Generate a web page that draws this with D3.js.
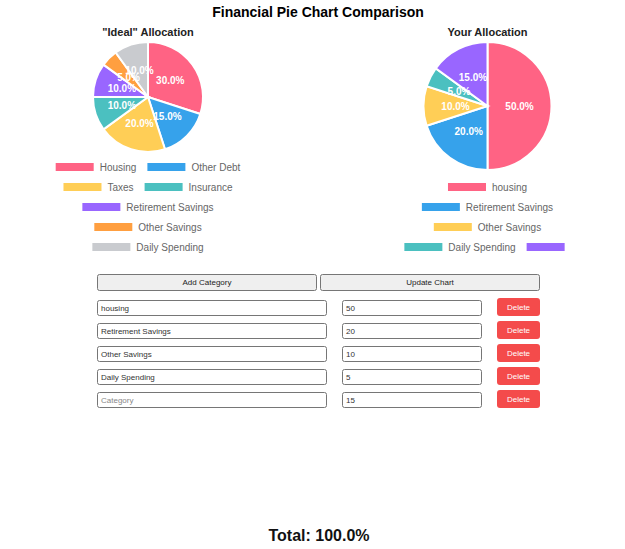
<!DOCTYPE html>
<html>
<head>
<meta charset="utf-8">
<script src="https://cdn.jsdelivr.net/npm/d3@7"></script>
<style>
  html, body { margin: 0; padding: 0; background: #fff; }
  svg { display: block; font-family: "Liberation Sans", Arial, Helvetica, sans-serif; }
</style>
</head>
<body>
<svg id="chart" width="625" height="549"></svg>
<script>
// ---- data ----
const idealCategories = ["Housing", "Other Debt", "Taxes", "Insurance", "Retirement Savings", "Other Savings", "Daily Spending"];
const idealValues = [30, 15, 20, 10, 10, 5, 10];
const yourCategories = ["housing", "Retirement Savings", "Other Savings", "Daily Spending", ""];
const yourValues = [50, 20, 10, 5, 15];
const palette = ["#FF6384", "#36A2EB", "#FFCE56", "#4BC0C0", "#9966FF", "#FF9F40", "#C9CBCF"];
const formPlaceholders = ["Category", "Category", "Category", "Category", "Category"];

const svg = d3.select("#chart");

svg.append("text")
  .attr("x", 318).attr("y", 17)
  .attr("text-anchor", "middle")
  .attr("font-size", 14).attr("font-weight", "bold").attr("fill", "#000")
  .text("Financial Pie Chart Comparison");

function drawPie(cfg) {
  const g = svg.append("g");
  g.append("text")
    .attr("x", cfg.cx).attr("y", 36)
    .attr("text-anchor", "middle")
    .attr("font-size", 11).attr("font-weight", "bold").attr("fill", "#222")
    .text(cfg.title);

  const total = d3.sum(cfg.values);
  const pie = d3.pie().sort(null).value(d => d.v);
  const data = pie(cfg.values.map((v, i) => ({ v, label: cfg.labels[i], i })));
  const arc = d3.arc().innerRadius(0).outerRadius(cfg.r);
  const pg = g.append("g").attr("transform", `translate(${cfg.cx},${cfg.cy})`);
  pg.selectAll("path").data(data).join("path")
    .attr("d", arc)
    .attr("fill", d => palette[d.data.i % palette.length])
    .attr("stroke", "#fff").attr("stroke-width", 2);
  pg.selectAll("text").data(data).join("text")
    .attr("transform", d => `translate(${arc.centroid(d)})`)
    .attr("text-anchor", "middle").attr("dy", "0.35em")
    .attr("font-size", 10).attr("font-weight", "bold").attr("fill", "#fff")
    .text(d => (d.data.v / total * 100).toFixed(1) + "%");

  // legend (row-wrapping, centered)
  const boxW = 38, boxH = 8, gap = 6, pad = 11, maxW = 205;
  const lg = g.append("g");
  const tmp = lg.append("text").attr("font-size", 10);
  const items = cfg.labels.map((l, i) => {
    tmp.text(l);
    const tw = l ? tmp.node().getComputedTextLength() : 0;
    return { l, i, w: boxW + gap + tw };
  });
  tmp.remove();
  const rows = [];
  let cur = [], curW = 0;
  items.forEach(it => {
    const add = cur.length ? pad + it.w : it.w;
    if (cur.length && curW + add > maxW) { rows.push({ items: cur, w: curW }); cur = [it]; curW = it.w; }
    else { cur.push(it); curW += add; }
  });
  if (cur.length) rows.push({ items: cur, w: curW });
  const startY = cfg.legendBottom - (rows.length - 1) * 20;
  rows.forEach((row, ri) => {
    let x = cfg.cx - row.w / 2;
    const y = startY + ri * 20;
    row.items.forEach(it => {
      lg.append("rect").attr("x", x).attr("y", y - boxH / 2).attr("width", boxW).attr("height", boxH)
        .attr("fill", palette[it.i % palette.length]);
      lg.append("text").attr("x", x + boxW + gap).attr("y", y).attr("dy", "0.35em")
        .attr("font-size", 10).attr("fill", "#666").text(it.l);
      x += it.w + pad;
    });
  });
}

drawPie({ title: "\"Ideal\" Allocation", labels: idealCategories, values: idealValues, cx: 148, cy: 97, r: 55, legendBottom: 247 });
drawPie({ title: "Your Allocation", labels: yourCategories, values: yourValues, cx: 487.5, cy: 106, r: 64, legendBottom: 247 });

// ---- form ----
const form = svg.append("g").attr("font-size", 8);
function button(x, y, w, h, label) {
  form.append("rect").attr("x", x + 0.5).attr("y", y + 0.5).attr("width", w - 1).attr("height", h - 1)
    .attr("rx", 2).attr("fill", "#efefef").attr("stroke", "#767676");
  form.append("text").attr("x", x + w / 2).attr("y", y + h / 2).attr("dy", "0.35em")
    .attr("text-anchor", "middle").attr("fill", "#222").text(label);
}
button(97, 274, 220, 17, "Add Category");
button(320, 274, 220, 17, "Update Chart");

const rowY = d3.range(yourCategories.length).map(i => 300 + i * 23);
yourCategories.forEach((c, i) => {
  const y = rowY[i];
  form.append("rect").attr("x", 97.5).attr("y", y + 0.5).attr("width", 229).attr("height", 15)
    .attr("rx", 2).attr("fill", "#fff").attr("stroke", "#767676");
  form.append("text").attr("x", 101).attr("y", y + 8).attr("dy", "0.35em")
    .attr("fill", c ? "#333" : "#888").text(c || formPlaceholders[i]);
  form.append("rect").attr("x", 342.5).attr("y", y + 0.5).attr("width", 139).attr("height", 15)
    .attr("rx", 2).attr("fill", "#fff").attr("stroke", "#767676");
  form.append("text").attr("x", 346).attr("y", y + 8).attr("dy", "0.35em")
    .attr("fill", "#333").text(yourValues[i]);
  form.append("rect").attr("x", 497).attr("y", y - 2).attr("width", 43).attr("height", 18)
    .attr("rx", 3).attr("fill", "#F44B4B");
  form.append("text").attr("x", 518.5).attr("y", y + 7).attr("dy", "0.35em")
    .attr("text-anchor", "middle").attr("fill", "#fff").text("Delete");
});

const totalPct = d3.sum(yourValues) / d3.sum(yourValues) * 100;
svg.append("text").attr("x", 319).attr("y", 541)
  .attr("text-anchor", "middle").attr("font-size", 16).attr("font-weight", "bold").attr("fill", "#111")
  .text("Total: " + totalPct.toFixed(1) + "%");
</script>
</body>
</html>
